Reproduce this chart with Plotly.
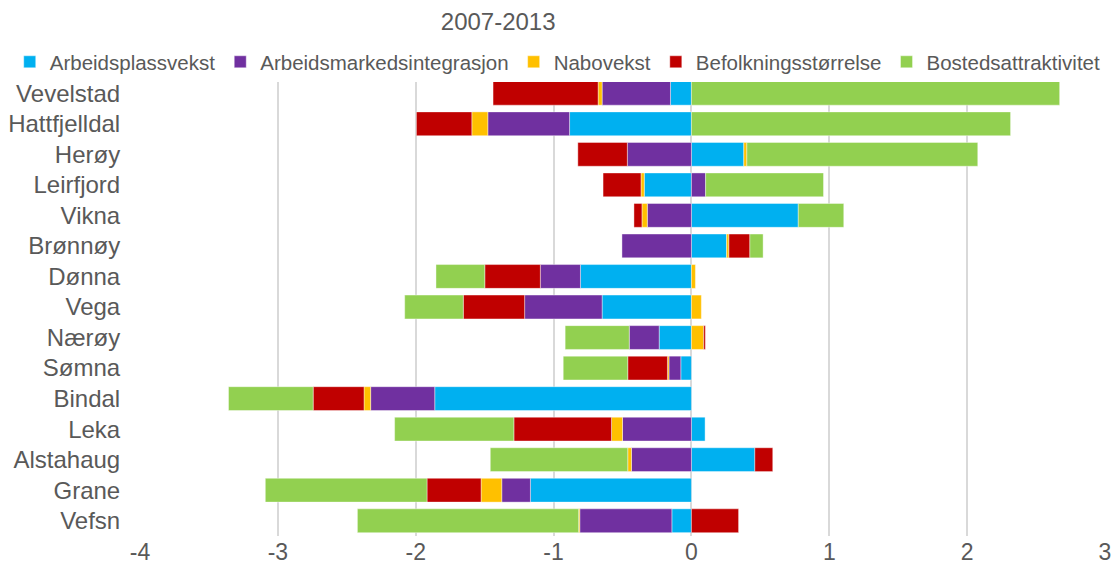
import plotly.graph_objects as go

categories = ["Vevelstad", "Hattfjelldal", "Herøy", "Leirfjord", "Vikna", "Brønnøy", "Dønna",
              "Vega", "Nærøy", "Sømna", "Bindal", "Leka", "Alstahaug", "Grane", "Vefsn"]

arbeidsplassvekst = [-0.152, -0.884, 0.380, -0.342, 0.775, 0.255, -0.805,
                     -0.648, -0.234, -0.077, -1.862, 0.099, 0.460, -1.168, -0.142]
arbeidsmarkedsintegrasjon = [-0.496, -0.593, -0.465, 0.103, -0.320, -0.504, -0.291,
                             -0.562, -0.217, -0.086, -0.465, -0.500, -0.435, -0.208, -0.668]
nabovekst = [-0.029, -0.116, 0.022, -0.024, -0.039, 0.017, 0.029,
             0.072, 0.089, -0.011, -0.048, -0.080, -0.027, -0.150, -0.008]
befolkningsstorrelse = [-0.762, -0.402, -0.359, -0.275, -0.058, 0.152, -0.403,
                        -0.445, 0.012, -0.288, -0.369, -0.708, 0.130, -0.392, 0.342]
bostedsattraktivitet = [2.671, 2.315, 1.675, 0.855, 0.330, 0.096, -0.354,
                        -0.425, -0.465, -0.468, -0.614, -0.865, -0.997, -1.173, -1.605]

series = [
    ("Arbeidsplassvekst", arbeidsplassvekst, "#00B0F0"),
    ("Arbeidsmarkedsintegrasjon", arbeidsmarkedsintegrasjon, "#7030A0"),
    ("Nabovekst", nabovekst, "#FFC000"),
    ("Befolkningsstørrelse", befolkningsstorrelse, "#C00000"),
    ("Bostedsattraktivitet", bostedsattraktivitet, "#92D050"),
]

x_ticks = [-4, -3, -2, -1, 0, 1, 2, 3]

fig = go.Figure()
for name, vals, color in series:
    fig.add_trace(go.Bar(
        y=categories, x=vals, name=name, orientation="h",
        marker=dict(color=color, line=dict(color="rgba(255,255,255,0.5)", width=0.8)),
    ))

fig.update_layout(
    barmode="relative",
    bargap=0.22,
    width=1117, height=575,
    margin=dict(l=140, r=12, t=78, b=39, autoexpand=False),
    paper_bgcolor="white", plot_bgcolor="white",
    font=dict(family="Liberation Sans, Arial, sans-serif", color="#595959"),
    title=dict(text="2007-2013", x=0.446, xanchor="center", xref="container",
               y=0.962, yanchor="middle", yref="container",
               font=dict(size=24, color="#595959")),
    legend=dict(orientation="h", x=-0.135, xanchor="left", xref="paper",
                y=1.035, yanchor="middle", yref="paper",
                font=dict(size=20.5, color="#595959"),
                itemwidth=30, traceorder="normal"),
    xaxis=dict(range=[-4, 3], tickvals=x_ticks, ticktext=[str(v) for v in x_ticks],
               showgrid=True, gridcolor="#D9D9D9", gridwidth=1.5,
               zeroline=True, zerolinecolor="#D9D9D9", zerolinewidth=1.5,
               tickfont=dict(size=23, color="#595959"), ticks="", showline=False),
    yaxis=dict(autorange="reversed", tickfont=dict(size=24, color="#595959"),
               ticks="outside", ticklen=14, tickcolor="rgba(0,0,0,0)", showgrid=False),
)

fig.write_html("out.html", config={"displayModeBar": False},
               post_script="document.body.style.margin='0px';")
